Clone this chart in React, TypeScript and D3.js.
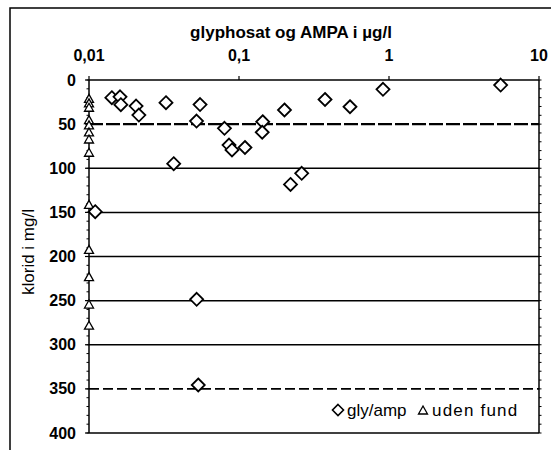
import React from "react";
import * as d3 from "d3";

// gly/amp detections: concentration (µg/l) and chloride (mg/l)
const glyConc = [0.0142, 0.0161, 0.0163, 0.0206, 0.0215, 0.0326, 0.055, 0.0521, 0.08, 0.1439, 0.1428, 0.201, 0.0858, 0.0898, 0.1096, 0.0367, 0.2205, 0.2618, 0.011, 0.0522, 0.0535, 0.3745, 0.5495, 0.912, 5.55];
const glyChlor = [20, 19, 28, 29.5, 39.7, 25.7, 27.8, 46.5, 54.7, 47.3, 59.2, 34, 73.7, 79.3, 76.5, 94.8, 118.4, 105.7, 149.2, 248.5, 345.6, 22.1, 30.3, 10.5, 5.7];

// no finding ("uden fund") samples, plotted at detection limit
const nfConc = [0.01, 0.01, 0.01, 0.01, 0.01, 0.01, 0.01, 0.01, 0.01, 0.01, 0.01, 0.01, 0.01];
const nfChlor = [22, 27, 32, 46, 52, 60, 68, 83, 142, 193, 224, 255, 279];

const xTicks = [0.01, 0.1, 1, 10];
const xTickLabels = ["0,01", "0,1", "1", "10"];
const yTicks = [0, 50, 100, 150, 200, 250, 300, 350, 400];
const solidGrid = [100, 150, 200, 250, 300];
const dashedGrid = [50, 350];

const W = 551, H = 450;
const L = 89, R = 539, T = 80, B = 433;
const FONT = "'Liberation Sans', Arial, sans-serif";

export default function App() {
  const x = d3.scaleLog().domain([0.01, 10]).range([L, R]);
  const y = d3.scaleLinear().domain([0, 400]).range([T, B]);
  const minor = d3.range(0, 401, 10);

  const diamond = (cx: number, cy: number, r: number) =>
    `M${cx},${cy - r}L${cx + r},${cy}L${cx},${cy + r}L${cx - r},${cy}Z`;
  const tri = (cx: number, cy: number, r: number) =>
    `M${cx},${cy - r}L${cx + r * 0.9},${cy + r * 0.6}L${cx - r * 0.9},${cy + r * 0.6}Z`;

  return (
    <svg width={W} height={H} style={{ display: "block", position: "absolute", left: 0, top: 0, background: "#fff" }}>
      <rect x={10} y={8} width={600} height={500} fill="#fff" stroke="#000" strokeWidth={1.5} />
      {/* title */}
      <text x={291} y={32} textAnchor="middle" dominantBaseline="central" fontFamily={FONT} fontSize={17} fontWeight="bold">
        glyphosat og AMPA i µg/l
      </text>
      {/* x tick labels */}
      {xTicks.map((t, i) => (
        <text key={"xl" + i} x={x(t)} y={55} textAnchor="middle" dominantBaseline="central" fontFamily={FONT} fontSize={16} fontWeight="bold">
          {xTickLabels[i]}
        </text>
      ))}
      {/* y title */}
      <text transform={`translate(28,252) rotate(-90)`} textAnchor="middle" dominantBaseline="central" fontFamily={FONT} fontSize={17}>
        klorid i mg/l
      </text>
      {/* y tick labels */}
      {yTicks.map((t) => (
        <text key={"yl" + t} x={76} y={y(t)} textAnchor="end" dominantBaseline="central" fontFamily={FONT} fontSize={16} fontWeight="bold">
          {t}
        </text>
      ))}
      {/* grid */}
      {solidGrid.map((g) => (
        <line key={"g" + g} x1={L} x2={R} y1={y(g)} y2={y(g)} stroke="#000" strokeWidth={1.5} />
      ))}
      {dashedGrid.map((g, i) => (
        <line key={"d" + g} x1={L} x2={R} y1={y(g)} y2={y(g)} stroke="#000" strokeWidth={i === 0 ? 2.2 : 1.6} strokeDasharray={i === 0 ? "14,3" : "10,4"} />
      ))}
      {/* plot frame */}
      <line x1={L} x2={R} y1={T} y2={T} stroke="#000" strokeWidth={1.5} />
      <line x1={L} x2={R} y1={B} y2={B} stroke="#000" strokeWidth={1.5} />
      <line x1={L} x2={L} y1={T} y2={B} stroke="#000" strokeWidth={1.5} />
      <line x1={R} x2={R} y1={T} y2={B} stroke="#000" strokeWidth={1.5} />
      {xTicks.map((t, i) => (
        <line key={"xt" + i} x1={x(t)} x2={x(t)} y1={T - 4} y2={T} stroke="#000" strokeWidth={1.2} />
      ))}
      {yTicks.map((t) => (
        <line key={"yt" + t} x1={L - 4} x2={L} y1={y(t)} y2={y(t)} stroke="#000" strokeWidth={1.2} />
      ))}
      {minor.map((t) => (
        <g key={"m" + t}>
          <line x1={L - 2.5} x2={L} y1={y(t)} y2={y(t)} stroke="#000" strokeWidth={1} />
          <line x1={R} x2={R + 2.5} y1={y(t)} y2={y(t)} stroke="#000" strokeWidth={1} />
        </g>
      ))}
      {/* no-finding triangles */}
      {nfChlor.map((c, i) => (
        <path key={"t" + i} d={tri(x(nfConc[i]), y(c), 5)} fill="#fff" stroke="#000" strokeWidth={1.3} />
      ))}
      {/* gly/amp diamonds */}
      {glyChlor.map((c, i) => (
        <path key={"p" + i} d={diamond(x(glyConc[i]), y(c), 6.5)} fill="#fff" stroke="#000" strokeWidth={1.8} />
      ))}
      {/* legend */}
      <path d={diamond(338, 410, 5.5)} fill="#fff" stroke="#000" strokeWidth={1.6} />
      <text x={347} y={410} dominantBaseline="central" fontFamily={FONT} fontSize={17}>gly/amp</text>
      <path d={tri(423, 411, 5)} fill="#fff" stroke="#000" strokeWidth={1.3} />
      <text x={432} y={410} dominantBaseline="central" fontFamily={FONT} fontSize={17} letterSpacing={1.2}>uden fund</text>
    </svg>
  );
}
